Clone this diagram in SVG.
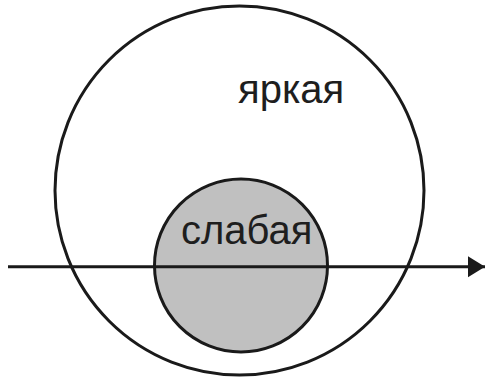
<svg xmlns="http://www.w3.org/2000/svg" width="485" height="379" viewBox="0 0 485 379">
<style>
.c{stroke:#1a1a1a;stroke-width:3}
.t{font-family:"Liberation Sans",Arial,sans-serif;font-size:40px;fill:#1e1e1e}
</style>
<defs>
<marker id="ah" markerUnits="userSpaceOnUse" markerWidth="18" markerHeight="22" refX="17" refY="10.5" orient="auto">
<path d="M0,0 L17,10.5 L0,21 Z" fill="#1a1a1a"/>
</marker>
</defs>
<rect width="485" height="379" fill="#fff"/>
<g id="bright">
<circle class="c" cx="239.5" cy="190.5" r="184.5" fill="#fff"/>
<text class="t" x="238" y="103">яркая</text>
</g>
<g id="weak">
<circle class="c" cx="241" cy="265.5" r="86.5" fill="#c0c0c0"/>
<text class="t" x="181" y="244">слабая</text>
</g>
<g id="connectors">
<line x1="8" y1="266.7" x2="485" y2="266.7" stroke="#1a1a1a" stroke-width="3" marker-end="url(#ah)"/>
</g>
</svg>
